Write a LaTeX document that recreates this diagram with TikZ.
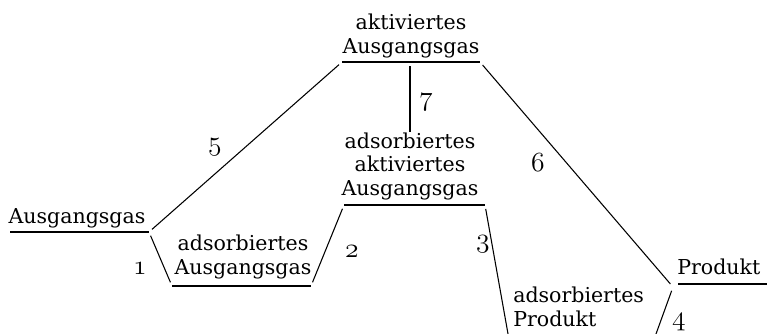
\documentclass[tikz,border=0pt]{standalone}
\usepackage{fontspec}
\setmainfont{DejaVu Serif}
\begin{document}
\begin{tikzpicture}[x=0.75pt,y=-0.75pt,
    niveau/.style={line width=0.8pt},
    weg/.style={line width=0.8pt, shorten <=3pt, shorten >=3pt},
    stoff/.style={align=center, inner sep=0pt, font=\fontsize{15.4}{17.6}\selectfont},
    nummer/.style={inner sep=0pt, font=\fontsize{20.74}{20}\selectfont}]
  \useasboundingbox (0,0) rectangle (767,333);
  \clip (0,0) rectangle (767,333);

  % Energieniveaus (Enden)
  \coordinate (A1) at (10,232);  \coordinate (A2) at (149,232);
  \coordinate (B1) at (172,286); \coordinate (B2) at (311,286);
  \coordinate (C1) at (344,205); \coordinate (C2) at (485,205);
  \coordinate (D1) at (342,62);  \coordinate (Dm) at (410,62); \coordinate (D2) at (480,62);
  \coordinate (E1) at (510,345); \coordinate (E2) at (652,345);
  \coordinate (F0) at (673,287); \coordinate (F1) at (678,284); \coordinate (F2) at (767,284);

  \foreach \a/\b in {A1/A2, B1/B2, C1/C2, D1/D2, E1/E2, F1/F2}
    \draw[niveau] (\a) -- (\b);

  % Stoffe
  \node[stoff, anchor=south] (ausgang) at (77,228) {Ausgangsgas};
  \node[stoff, anchor=south] (adsausgang) at (243,279) {adsorbiertes\\Ausgangsgas};
  \node[stoff, anchor=south] (adsakt) at (410,200) {adsorbiertes\\aktiviertes\\Ausgangsgas};
  \node[stoff, anchor=south] (akt) at (411,58) {aktiviertes\\Ausgangsgas};
  \node[stoff, anchor=south west, align=left] (adsprod) at (513,327) {adsorbiertes\\Produkt};
  \node[stoff, anchor=south west] (produkt) at (677,275) {Produkt};

  % Reaktionswege
  \draw[weg] (A2) -- (B1);
  \draw[weg] (B2) -- (C1);
  \draw[weg] (C2) -- (E1);
  \draw[weg] (E2) -- (F0);
  \draw[weg] (A2) -- (D1);
  \draw[weg] (D2) -- (F0);
  \draw[weg, shorten >=0pt] (Dm) -- (adsakt.north);

  % Nummern
  \node[nummer] (n1) at (140,269) {$\mathnormal{1}$};
  \node[nummer] (n2) at (352,252) {$\mathnormal{2}$};
  \node[nummer] (n3) at (483,244) {$\mathnormal{3}$};
  \node[nummer] (n4) at (679,322) {$\mathnormal{4}$};
  \node[nummer] (n5) at (215,147) {$\mathnormal{5}$};
  \node[nummer] (n6) at (538,163) {$\mathnormal{6}$};
  \node[nummer] (n7) at (426,102) {$\mathnormal{7}$};

\end{tikzpicture}
\end{document}
